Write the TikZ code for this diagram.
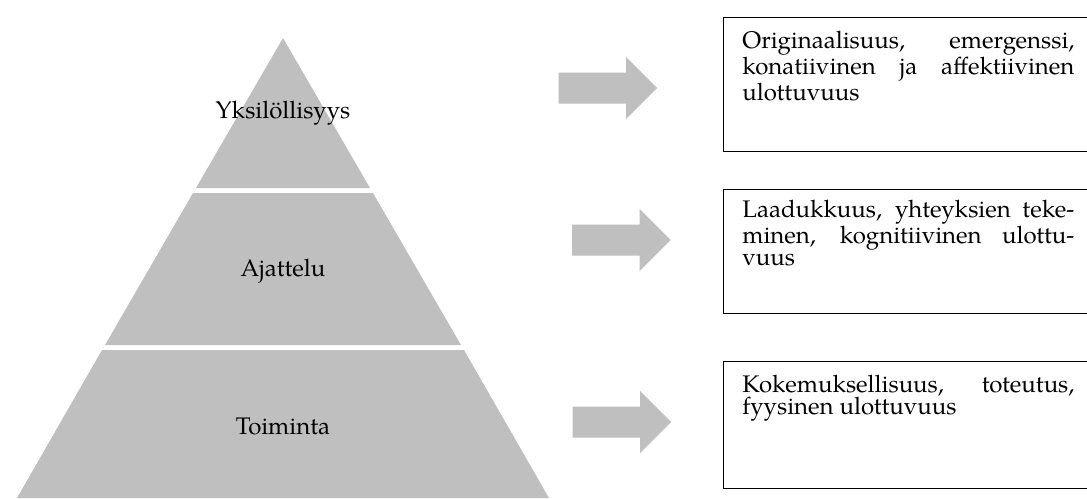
\documentclass[tikz,border=0pt]{standalone}
\usepackage{fontspec}
\setmainfont{texgyrepagella-regular.otf}
\definecolor{pyrgray}{HTML}{BFBFBF}
\tikzset{
  tier/.style={fill=pyrgray, draw=none},
  tierlabel/.style={font=\fontsize{12}{12}\selectfont, anchor=base, inner sep=0pt},
  framebox/.style={draw=black, line width=0.6pt, anchor=north west, inner sep=0pt, minimum width=184.5pt},
  boxtext/.style={font=\fontsize{12}{11.3}\selectfont, text width=166pt, align=justify, anchor=base west, inner sep=0pt},
  blockarrow/.pic={\fill[pyrgray] (0,-15.5) -- (67.5,-15.5) -- (67.5,-31) -- (98.5,0) -- (67.5,31) -- (67.5,15.5) -- (0,15.5) -- cycle;}
}
\begin{document}
\begin{tikzpicture}[x=0.5pt,y=-0.5pt]
\useasboundingbox (0,0) rectangle (1087,498);
\clip (0,0) rectangle (1087,498);
% pyramid tiers
\fill[tier] (283,38) -- (370,188) -- (196,188) -- cycle;
\fill[tier] (193,193) -- (373,193) -- (461,345) -- (105,345) -- cycle;
\fill[tier] (102,350) -- (464,350) -- (549,498) -- (17,498) -- cycle;
% tier labels
\node[tierlabel] (l1) at (283,118) {Yksilöllisyys};
\node[tierlabel] (l2) at (283,276) {Ajattelu};
\node[tierlabel] (l3) at (283,434) {Toiminta};
% arrows
\pic at (558.5,88) {blockarrow};
\pic at (572,240) {blockarrow};
\pic at (572.5,422) {blockarrow};
% boxes
\node[framebox, minimum height=67pt] (b1) at (723,17) {};
\node[framebox, minimum height=62pt] (b2) at (723,189) {};
\node[framebox, minimum height=63.5pt] (b3) at (723,361) {};
\node[boxtext] (t1) at (742,48) {Originaalisuus, emergenssi,\linebreak konatiivinen ja affektiivinen\linebreak ulottuvuus};
\node[boxtext] (t2) at (742,217) {Laadukkuus, yhteyksien teke-\linebreak minen, kognitiivinen ulottu-\linebreak vuus};
\node[boxtext] (t3) at (742,392) {Kokemuksellisuus, toteutus,\linebreak fyysinen ulottuvuus};
\end{tikzpicture}
\end{document}
